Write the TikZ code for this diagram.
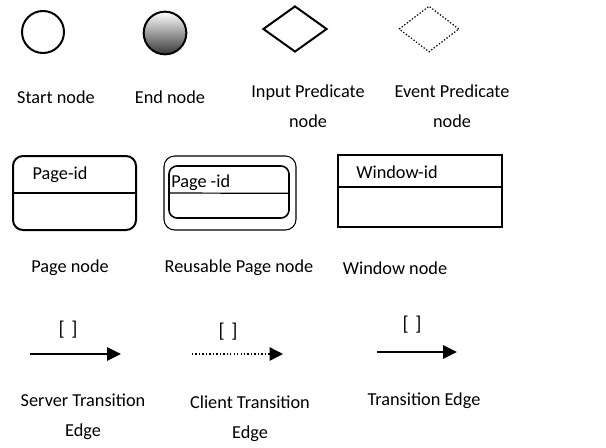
\documentclass[tikz,border=0pt]{standalone}
\usepackage{fontspec}
\setmainfont{Carlito}
\usetikzlibrary{shapes.geometric,arrows.meta}
\begin{document}
\begin{tikzpicture}[x=0.75pt,y=-0.75pt,
  lbl/.style={font=\fontsize{13.7}{22.5}\selectfont,align=center,inner sep=0pt},
  idtxt/.style={font=\fontsize{13.7}{16}\selectfont,inner sep=0pt},
  grd/.style={font=\fontsize{15}{16}\selectfont,inner sep=0pt},
  shp/.style={draw,line width=1.5pt,inner sep=0pt},
  box/.style={shp,rectangle},
  divider/.style={line width=1.3pt},
  edge/.style={line width=1.5pt,-{Triangle[length=10.5pt,width=10pt]}},
  dedge/.style={line width=1.1pt,dash pattern=on 1pt off 1.6pt,-{Triangle[length=10pt,width=10pt]}}]
\useasboundingbox (0,0) rectangle (606,447);
% row 1
\node[shp,circle,minimum size=31.5pt] (start) at (43,32) {};
\node[shp,circle,minimum size=32pt,shading=axis,top color=white,bottom color=black!78] (end) at (165,33) {};
\node[shp,diamond,minimum width=48pt,minimum height=34.5pt] (ipred) at (295,29) {};
\node[draw,line width=0.9pt,dash pattern=on 1pt off 1.4pt,inner sep=0pt,diamond,minimum width=45pt,minimum height=34.5pt] (epred) at (429,29) {};
\node[lbl] (lstart) at (56,97) {Start node};
\node[lbl] (lend) at (170,97) {End node};
\node[lbl,anchor=north] (lipred) at (308,85) {Input Predicate\\node};
\node[lbl,anchor=north] (lepred) at (452,85) {Event Predicate\\node};
% row 2
\node[box,rounded corners=7.5pt,minimum width=92.25pt,minimum height=55.5pt] (page) at (74.5,193) {};
\draw[divider] (page.west) -- (page.east);
\node[idtxt] (pageid) at (60,175) {Page-id};
\node[draw,line width=0.8pt,rectangle,rounded corners=8pt,minimum width=99pt,minimum height=55.5pt,inner sep=0pt] (rpout) at (230,193) {};
\node[draw,line width=1.2pt,rectangle,rounded corners=6pt,minimum width=90pt,minimum height=39pt,inner sep=0pt] (rpin) at (229,192) {};
\draw[line width=0.9pt] ([yshift=-0.75pt]rpin.west) -- ([yshift=-1pt]rpin.east);
\node[idtxt,anchor=west] (rpid) at (171,183) {Page -id};
\node[box,minimum width=123pt,minimum height=54pt] (win) at (420,191) {};
\draw[divider] ([yshift=3pt]win.west) -- ([yshift=3pt]win.east);
\node[idtxt] (winid) at (397,172) {Window-id};
\node[lbl] (lpage) at (70,268) {Page node};
\node[lbl] (lrpage) at (239,268) {Reusable Page node};
\node[lbl] (lwin) at (395,268) {Window node};
% row 3
\coordinate (s1) at (30,354);
\coordinate (s2) at (121,354);
\draw[edge] (s1) -- (s2);
\node[grd] (sg) at (68,330) {[\,\,]};
\coordinate (c1) at (192,354);
\coordinate (c2) at (283,354);
\draw[dedge] (c1) -- (c2);
\node[grd] (cg) at (228,332) {[\,\,]};
\coordinate (t1) at (377,352);
\coordinate (t2) at (457,352);
\draw[edge] (t1) -- (t2);
\node[grd] (tg) at (412,325) {[\,\,]};
\node[lbl,anchor=north] (ls) at (83,394) {Server Transition\\Edge};
\node[lbl,anchor=north] (lc) at (250,396) {Client Transition\\Edge};
\node[lbl,anchor=north] (lt) at (424,393) {Transition Edge};
\end{tikzpicture}
\end{document}
